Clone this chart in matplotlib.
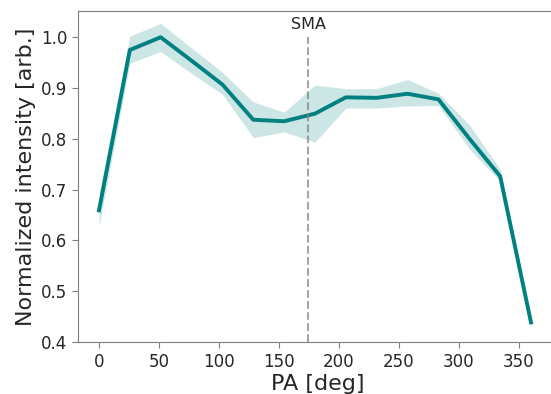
import numpy as np
import matplotlib
matplotlib.use("Agg")
import matplotlib.pyplot as plt

# position angle samples and profile
pa = [0, 25.7, 51.4, 77.1, 102.9, 128.6, 154.3, 180.0, 205.7, 231.4, 257.1, 282.9, 308.6, 334.3, 360]
mean = [0.659, 0.974, 0.999, 0.953, 0.906, 0.837, 0.834, 0.849, 0.881, 0.880, 0.888, 0.877, 0.800, 0.726, 0.439]
lower = [0.628, 0.948, 0.971, 0.928, 0.887, 0.802, 0.813, 0.793, 0.860, 0.860, 0.864, 0.865, 0.780, 0.716, 0.430]
upper = [0.690, 1.001, 1.026, 0.978, 0.930, 0.872, 0.852, 0.905, 0.898, 0.898, 0.916, 0.889, 0.827, 0.740, 0.448]
sma = 174.5

fig = plt.figure(figsize=(5.51, 3.94), dpi=100)
# right edge sits just outside the canvas, as in the cropped original
ax = fig.add_axes([78 / 551, 0.1312, (558 - 78) / 551, 0.8410])

ax.fill_between(pa, lower, upper, color='teal', alpha=0.2, lw=0)
ax.plot(pa, mean, color='teal', lw=2.8)

ax.vlines(sma, 0.4, 1.0, colors='grey', linestyles='--', alpha=0.7, lw=1.5)
ax.text(sma, 1.009, 'SMA', ha='center', va='bottom', fontsize=11.5, color='#262626')

ax.set_xlim(-17.5, (558 - 99) / 1.2)
ax.set_ylim(0.4, 1.0506)
ax.set_xticks([0, 50, 100, 150, 200, 250, 300, 350])
ax.set_yticks([0.4, 0.5, 0.6, 0.7, 0.8, 0.9, 1.0])
ax.tick_params(labelsize=12, colors='#262626', length=4)
for s in ax.spines.values():
    s.set_color('#7f7f7f')
ax.spines['right'].set_visible(False)
ax.tick_params(color='#7f7f7f')

ax.set_xlabel('PA [deg]', fontsize=16, color='#262626', labelpad=2)
ax.set_ylabel('Normalized intensity [arb.]', fontsize=16, color='#262626')

fig.savefig('out.png', dpi=100)
